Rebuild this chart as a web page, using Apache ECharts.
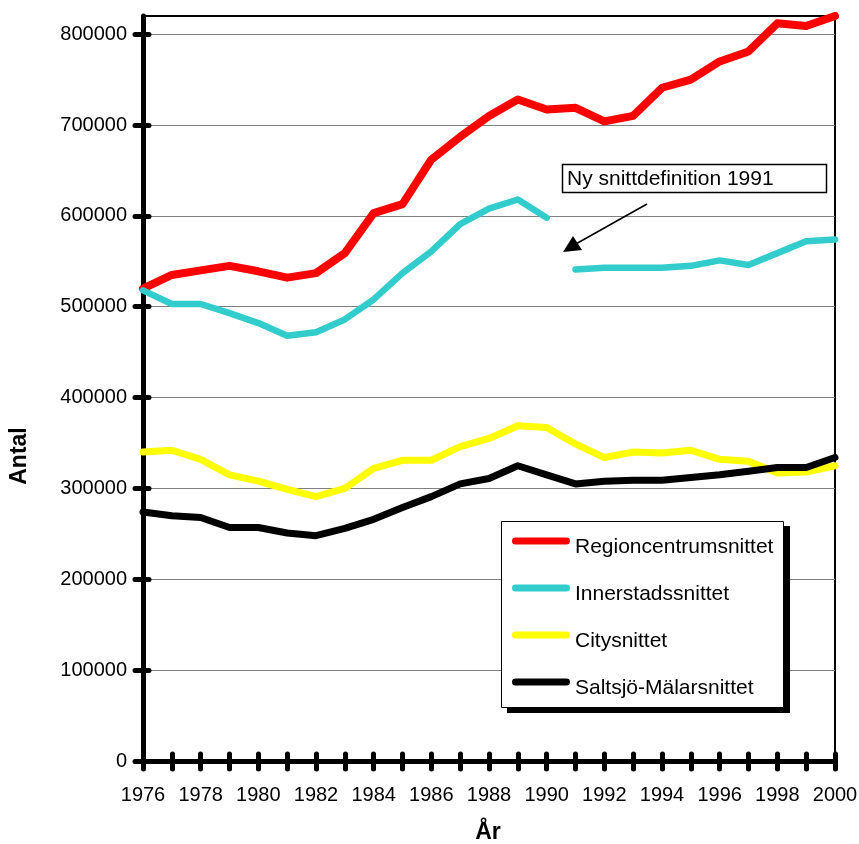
<!DOCTYPE html>
<html>
<head>
<meta charset="utf-8">
<script src="https://cdn.jsdelivr.net/npm/echarts@6/dist/echarts.min.js"></script>
<style>
html,body{margin:0;padding:0;background:#fff;}
#c{width:859px;height:844px;}
</style>
</head>
<body>
<div id="c"></div>
<script>
const years = [1976,1977,1978,1979,1980,1981,1982,1983,1984,1985,1986,1987,1988,1989,1990,1991,1992,1993,1994,1995,1996,1997,1998,1999,2000];
const yTicks = [0,100000,200000,300000,400000,500000,600000,700000,800000];
const seriesNames = ['Regioncentrumsnittet','Innerstadssnittet','Citysnittet','Saltsjö-Mälarsnittet'];
const regionValues = [520000,535000,540000,545000,539000,532000,537000,559000,603000,613000,662000,687000,710000,728000,717000,719000,704000,710000,741000,750000,770000,781000,812000,809000,820000];
const innerOldYears = [1976,1977,1978,1979,1980,1981,1982,1983,1984,1985,1986,1987,1988,1989,1990];
const innerOldValues = [518000,503000,503000,493000,482000,468000,472000,486000,508000,537000,561000,591000,608000,618000,598000];
const innerNewYears = [1991,1992,1993,1994,1995,1996,1997,1998,1999,2000];
const innerNewValues = [541000,543000,543000,543000,545000,551000,546000,559000,572000,574000];
const cityValues = [340000,342000,332000,315000,308000,299000,291000,300000,322000,331000,331000,346000,355000,369000,367000,349000,334000,340000,339000,342000,332000,330000,317000,318000,325000];
const saltValues = [274000,270000,268000,257000,257000,251000,248000,256000,266000,279000,291000,305000,311000,325000,315000,305000,308000,309000,309000,312000,315000,319000,323000,323000,334000];

const FONT = "'Liberation Sans', Arial, sans-serif";
const pair = (xs, vs) => xs.map((x, i) => [x, vs[i]]);

const chart = echarts.init(document.getElementById('c'), null, {renderer: 'canvas'});

const lineSeries = (name, xs, vs, color, width) => ({
  name: name, type: 'line', data: pair(xs, vs), symbol: 'none', showSymbol: false,
  xAxisIndex: 0, yAxisIndex: 0, animation: false, silent: true,
  itemStyle: {color: color},
  lineStyle: {color: color, width: width, cap: 'round', join: 'round'},
  emphasis: {disabled: true}
});

// legend icon: rounded bar in the top part of the icon box, so the label sits a bit lower
const legendIcon = 'path://M3.5,0 L54.5,0 A3.5,3.5 0 0 1 54.5,7 L3.5,7 A3.5,3.5 0 0 1 3.5,0 Z M0,20 L0.01,20 L0.01,20.01 Z';

chart.setOption({
  backgroundColor: '#fff',
  animation: false,
  grid: {left: 143, right: 24, top: 16, bottom: 83, containLabel: false, outerBoundsMode: 'none',
         show: true, borderColor: '#000', borderWidth: 2, backgroundColor: 'transparent'},
  xAxis: [{
    type: 'value', min: 1976, max: 2000, interval: 1, position: 'bottom',
    axisLine: {show: true, onZero: false, lineStyle: {color: '#000', width: 5, cap: 'round'}},
    axisTick: {show: true, inside: false, length: 8, lineStyle: {color: '#000', width: 5, cap: 'round'}},
    axisLabel: {show: true, margin: 24, color: '#000', fontFamily: FONT, fontSize: 20,
      formatter: v => (v % 2 === 0 ? String(v) : '')},
    splitLine: {show: false}
  }, {
    type: 'value', min: 1976, max: 2000, interval: 1, position: 'bottom',
    axisLine: {show: false},
    axisTick: {show: true, inside: true, length: 7, lineStyle: {color: '#000', width: 5, cap: 'round'}},
    axisLabel: {show: false},
    splitLine: {show: false}
  }],
  yAxis: [{
    type: 'value', min: 0, max: 820000, interval: 100000, position: 'left',
    axisLine: {show: true, onZero: false, lineStyle: {color: '#000', width: 5, cap: 'round'}},
    axisTick: {show: true, inside: false, length: 8, customValues: yTicks, lineStyle: {color: '#000', width: 5, cap: 'round'}},
    axisLabel: {show: true, margin: 16, color: '#000', fontFamily: FONT, fontSize: 20, customValues: yTicks,
      formatter: v => (v % 100000 === 0 ? String(v) : '')},
    splitLine: {show: true, lineStyle: {color: '#808080', width: 1}}
  }, {
    type: 'value', min: 0, max: 820000, interval: 100000, position: 'left',
    axisLine: {show: false},
    axisTick: {show: true, inside: true, length: 6, customValues: yTicks, lineStyle: {color: '#000', width: 5, cap: 'round'}},
    axisLabel: {show: false},
    splitLine: {show: false}
  }],
  legend: {
    data: seriesNames, orient: 'vertical', left: 501, top: 521, z: 10,
    padding: [16, 10, 9, 11], itemGap: 26, itemWidth: 58, itemHeight: 20, icon: legendIcon,
    backgroundColor: 'transparent', borderWidth: 0,
    selectedMode: false,
    itemStyle: {borderWidth: 0},
    textStyle: {fontFamily: FONT, fontSize: 21, color: '#000', lineHeight: 20}
  },
  graphic: [
    {type: 'rect', shape: {x: 507, y: 526, width: 283, height: 187}, style: {fill: '#000'}, z: 1},
    {type: 'rect', shape: {x: 501.5, y: 521.5, width: 282, height: 186}, style: {fill: '#fff', stroke: '#000', lineWidth: 1}, z: 2},
    {type: 'text', x: 20, y: 456, rotation: Math.PI / 2,
     style: {text: 'Antal', font: "bold 23px 'Liberation Sans', Arial, sans-serif", fill: '#000', align: 'center', verticalAlign: 'middle'}},
    {type: 'text', x: 488, y: 833,
     style: {text: 'År', font: "bold 23px 'Liberation Sans', Arial, sans-serif", fill: '#000', align: 'center', verticalAlign: 'middle'}},
    {type: 'rect', shape: {x: 562.5, y: 164.5, width: 264, height: 28},
     style: {fill: '#fff', stroke: '#000', lineWidth: 1.5}, z: 100},
    {type: 'text', x: 567, y: 179,
     style: {text: 'Ny snittdefinition 1991', font: "21px 'Liberation Sans', Arial, sans-serif", fill: '#000', align: 'left', verticalAlign: 'middle'}, z: 101},
    {type: 'line', shape: {x1: 647, y1: 204, x2: 574, y2: 245},
     style: {stroke: '#000', lineWidth: 1.5}, z: 100},
    {type: 'polygon', shape: {points: [[563, 252], [582, 250], [573, 236]]},
     style: {fill: '#000'}, z: 100}
  ],
  series: [
    lineSeries(seriesNames[0], years, regionValues, '#FF0000', 8),
    lineSeries(seriesNames[1], innerOldYears, innerOldValues, '#33CCCC', 6.5),
    lineSeries(seriesNames[1], innerNewYears, innerNewValues, '#33CCCC', 6.5),
    lineSeries(seriesNames[2], years, cityValues, '#FFFF00', 7),
    lineSeries(seriesNames[3], years, saltValues, '#000000', 7)
  ]
});
</script>
</body>
</html>
